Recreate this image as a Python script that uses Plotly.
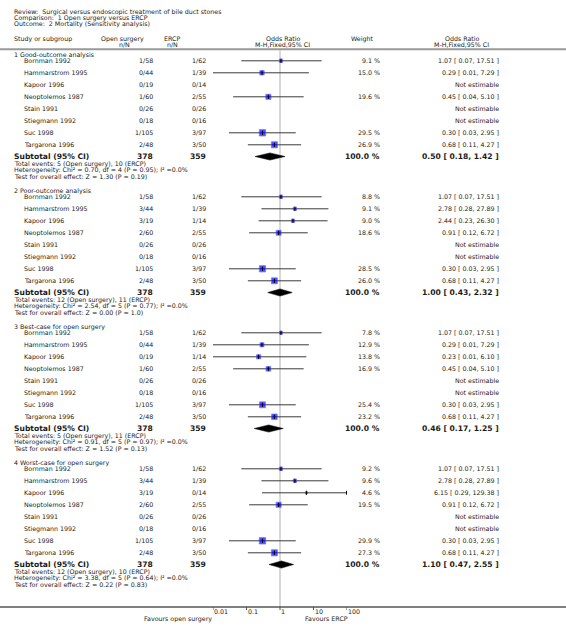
import numpy as np
import plotly.graph_objects as go

W, H = 566, 637

title_lines = [
    "Review:  Surgical versus endoscopic treatment of bile duct stones",
    "Comparison:  1 Open surgery versus ERCP",
    "Outcome:  2 Mortality (Sensitivity analysis)",
]

studies = ["Bornman 1992", "Hammarstrom 1995", "Kapoor 1996", "Neoptolemos 1987",
           "Stain 1991", "Stiegmann 1992", "Suc 1998", "Targarona 1996"]

group_titles = ["1 Good-outcome analysis", "2 Poor-outcome analysis",
                "3 Best-case for open surgery", "4 Worst-case for open surgery"]

open_nN = [
    ["1/58", "0/44", "0/19", "1/60", "0/26", "0/18", "1/105", "2/48"],
    ["1/58", "3/44", "3/19", "2/60", "0/26", "0/18", "1/105", "2/48"],
    ["1/58", "0/44", "0/19", "1/60", "0/26", "0/18", "1/105", "2/48"],
    ["1/58", "3/44", "3/19", "2/60", "0/26", "0/18", "1/105", "2/48"],
]
ercp_nN = [
    ["1/62", "1/39", "0/14", "2/55", "0/26", "0/16", "3/97", "3/50"],
    ["1/62", "1/39", "1/14", "2/55", "0/26", "0/16", "3/97", "3/50"],
    ["1/62", "1/39", "1/14", "2/55", "0/26", "0/16", "3/97", "3/50"],
    ["1/62", "1/39", "0/14", "2/55", "0/26", "0/16", "3/97", "3/50"],
]
weights = [
    [9.1, 15.0, None, 19.6, None, None, 29.5, 26.9],
    [8.8, 9.1, 9.0, 18.6, None, None, 28.5, 26.0],
    [7.8, 12.9, 13.8, 16.9, None, None, 25.4, 23.2],
    [9.2, 9.6, 4.6, 19.5, None, None, 29.9, 27.3],
]
or_est = [
    [1.07, 0.29, None, 0.45, None, None, 0.30, 0.68],
    [1.07, 2.78, 2.44, 0.91, None, None, 0.30, 0.68],
    [1.07, 0.29, 0.23, 0.45, None, None, 0.30, 0.68],
    [1.07, 2.78, 6.15, 0.91, None, None, 0.30, 0.68],
]
or_lo = [
    [0.07, 0.01, None, 0.04, None, None, 0.03, 0.11],
    [0.07, 0.28, 0.23, 0.12, None, None, 0.03, 0.11],
    [0.07, 0.01, 0.01, 0.04, None, None, 0.03, 0.11],
    [0.07, 0.28, 0.29, 0.12, None, None, 0.03, 0.11],
]
or_hi = [
    [17.51, 7.29, None, 5.10, None, None, 2.95, 4.27],
    [17.51, 27.89, 26.30, 6.72, None, None, 2.95, 4.27],
    [17.51, 7.29, 6.10, 5.10, None, None, 2.95, 4.27],
    [17.51, 27.89, 129.38, 6.72, None, None, 2.95, 4.27],
]
sub_open_N = [378, 378, 378, 378]
sub_ercp_N = [359, 359, 359, 359]
sub_est = [0.50, 1.00, 0.46, 1.10]
sub_lo = [0.18, 0.43, 0.17, 0.47]
sub_hi = [1.42, 2.32, 1.25, 2.55]
total_events = [
    "Total events: 5 (Open surgery), 10 (ERCP)",
    "Total events: 12 (Open surgery), 11 (ERCP)",
    "Total events: 5 (Open surgery), 11 (ERCP)",
    "Total events: 12 (Open surgery), 10 (ERCP)",
]
heterogeneity = [
    "Heterogeneity: Chi² = 0.70, df = 4 (P = 0.95); I² =0.0%",
    "Heterogeneity: Chi² = 2.54, df = 5 (P = 0.77); I² =0.0%",
    "Heterogeneity: Chi² = 0.91, df = 5 (P = 0.97); I² =0.0%",
    "Heterogeneity: Chi² = 3.38, df = 5 (P = 0.64); I² =0.0%",
]
overall = [
    "Test for overall effect: Z = 1.30 (P = 0.19)",
    "Test for overall effect: Z = 0.00 (P = 1.0)",
    "Test for overall effect: Z = 1.52 (P = 0.13)",
    "Test for overall effect: Z = 0.22 (P = 0.83)",
]
tick_vals = [0.01, 0.1, 1, 10, 100]
tick_text = ["0.01", "0.1", "1", "10", "100"]

# ---- layout constants (pixels) ----
FONT = "DejaVu Sans"
FS = 6.3
FSB = 7.6
TXT = "#1a1a1a"
X_STUDY, X_GROUP = 23, 13
X_OPEN, X_ERCP, X_W, X_CI = 153.5, 206.5, 381, 500
PLOT_L, PLOT_R = 213, 347
G0, G_STEP = 54.5, 136
AXIS_Y = 607

annotations = []


def txt(x, y, s, anchor="left", size=FS, bold=False, xref="paper"):
    if bold:
        s = "<b>" + s + "</b>"
    annotations.append(dict(
        x=x / W if xref == "paper" else x, y=y, xref=xref, yref="y", text=s,
        showarrow=False, xanchor=anchor, yanchor="middle",
        font=dict(family=FONT, size=size, color=TXT), borderpad=0))


for i, s in enumerate(title_lines):
    txt(13, 12.3 + 6.0 * i, s)

txt(13, 38.5, "Study or subgroup")
txt(122, 38.5, "Open surgery", "center")
txt(125, 44.5, "n/N", "center")
txt(172, 38.5, "ERCP", "center")
txt(172, 44.5, "n/N", "center")
txt(283, 38.5, "Odds Ratio", "center")
txt(282, 44.5, "M-H,Fixed,95% CI", "center")
txt(362, 38.5, "Weight", "center")
txt(462, 38.5, "Odds Ratio", "center")
txt(461, 44.5, "M-H,Fixed,95% CI", "center")

ci_x, ci_y = [], []
sq_x, sq_y, sq_s = [], [], []
arrow_x, arrow_y = [], []
dia_traces = []

for g in range(len(group_titles)):
    y0 = G0 + G_STEP * g
    txt(X_GROUP, y0, group_titles[g])
    for i, name in enumerate(studies):
        y = y0 + 6.3 + 12 * i
        txt(X_STUDY, y, name)
        txt(X_OPEN, y, open_nN[g][i], "right")
        txt(X_ERCP, y, ercp_nN[g][i], "right")
        w = weights[g][i]
        if w is None:
            txt(X_CI, y, "Not estimable", "right")
            continue
        txt(X_W, y, f"{w:.1f} %", "right")
        e, lo, hi = or_est[g][i], or_lo[g][i], or_hi[g][i]
        txt(X_CI, y, f"{e:.2f} [ {lo:.2f}, {hi:.2f} ]", "right")
        hi_c = min(hi, tick_vals[-1])
        ci_x += [lo, hi_c, None]
        ci_y += [y, y, None]
        if hi > tick_vals[-1]:
            arrow_x.append(tick_vals[-1])
            arrow_y.append(y)
        sq_x.append(e)
        sq_y.append(y)
        sq_s.append(max(1.28 * np.sqrt(w) - 0.6, 1.0))
    ys = y0 + 102
    txt(X_GROUP, ys, "Subtotal (95% CI)", size=FSB, bold=True)
    txt(X_OPEN, ys, str(sub_open_N[g]), "right", size=FSB, bold=True)
    txt(X_ERCP, ys, str(sub_ercp_N[g]), "right", size=FSB, bold=True)
    txt(X_W, ys, "100.0 %", "right", size=FSB, bold=True)
    txt(X_CI, ys, f"{sub_est[g]:.2f} [ {sub_lo[g]:.2f}, {sub_hi[g]:.2f} ]", "right",
        size=FSB, bold=True)
    txt(X_GROUP, y0 + 109.3, total_events[g])
    txt(X_GROUP, y0 + 115.8, heterogeneity[g])
    txt(X_GROUP, y0 + 122.2, overall[g])
    dia_traces.append(go.Scatter(
        x=[sub_lo[g], sub_est[g], sub_hi[g], sub_est[g], sub_lo[g]],
        y=[ys, ys - 3.6, ys, ys + 3.6, ys],
        mode="lines", fill="toself", fillcolor="black",
        line=dict(color="black", width=0.5), hoverinfo="skip"))

fig = go.Figure()
# vertical line of no effect
fig.add_trace(go.Scatter(x=[1, 1], y=[50.5, AXIS_Y], mode="lines",
                         line=dict(color="#d8d8d8", width=2), hoverinfo="skip"))
# CI lines
fig.add_trace(go.Scatter(x=ci_x, y=ci_y, mode="lines",
                         line=dict(color="#3a3a3a", width=1), hoverinfo="skip"))
fig.add_trace(go.Scatter(x=arrow_x, y=arrow_y, mode="markers",
                         marker=dict(symbol="triangle-right", size=4, color="black"),
                         hoverinfo="skip"))
# squares
fig.add_trace(go.Scatter(x=sq_x, y=sq_y, mode="markers",
                         marker=dict(symbol="square", size=sq_s, color="#0000ff",
                                     line=dict(color="#3c3cff", width=0.8)),
                         hoverinfo="skip"))
fig.add_trace(go.Scatter(x=sq_x, y=sq_y, mode="markers",
                         marker=dict(symbol="line-ns", size=3,
                                     line=dict(color="black", width=1)),
                         hoverinfo="skip"))
for t in dia_traces:
    fig.add_trace(t)

# axis ticks
tx, ty = [], []
for v in tick_vals:
    tx += [v, v, None]
    ty += [AXIS_Y, AXIS_Y + 3, None]
fig.add_trace(go.Scatter(x=tx, y=ty, mode="lines",
                         line=dict(color="#555555", width=1), hoverinfo="skip"))
for v, s in zip(tick_vals, tick_text):
    annotations.append(dict(x=np.log10(v), y=AXIS_Y + 4.8, xref="x", yref="y", text=s,
                            showarrow=False, xanchor="left", yanchor="middle",
                            font=dict(family=FONT, size=FS, color=TXT), borderpad=0))
txt(213, 618.5, "Favours open surgery", "right")
txt(304, 618.5, "Favours ERCP", "left")

shapes = [
    dict(type="line", xref="paper", yref="y", x0=0, x1=1, y0=49.3, y1=49.3,
         line=dict(color="#999999", width=2)),
    dict(type="line", xref="paper", yref="y", x0=0, x1=1, y0=AXIS_Y, y1=AXIS_Y,
         line=dict(color="#555555", width=1.3)),
]

fig.update_layout(
    width=W, height=H, margin=dict(l=0, r=0, t=0, b=0),
    paper_bgcolor="white", plot_bgcolor="white", showlegend=False,
    xaxis=dict(type="log", range=[-2, 2], domain=[PLOT_L / W, PLOT_R / W],
               visible=False, fixedrange=True),
    yaxis=dict(range=[H, 0], domain=[0, 1], visible=False, fixedrange=True),
    annotations=annotations, shapes=shapes,
)
fig.write_html("out.html", config={"displayModeBar": False},
               post_script="document.body.style.margin='0px';"
                           "document.body.style.overflow='hidden';")
